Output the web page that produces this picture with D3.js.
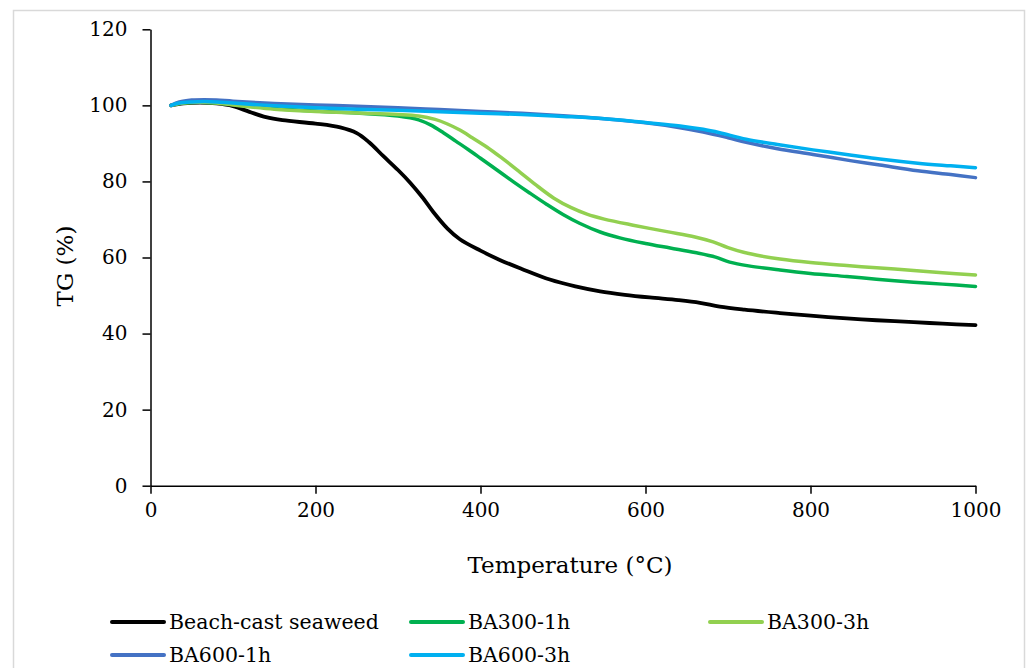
<!DOCTYPE html>
<html>
<head>
<meta charset="utf-8">
<script src="https://cdn.jsdelivr.net/npm/d3@7/dist/d3.min.js"></script>
<style>
  html, body { margin: 0; padding: 0; background: #fff; }
  svg { display: block; }
  text { font-family: "DejaVu Serif", "Liberation Serif", serif; fill: #000; }
</style>
</head>
<body>
<svg id="chart" width="1027" height="668"></svg>
<script>
// ---- data (temperature °C, TG %) ----
const seriesNames = ["Beach-cast seaweed", "BA300-1h", "BA300-3h", "BA600-1h", "BA600-3h"];
const seriesColors = ["#000000", "#00b050", "#92d050", "#4472c4", "#00b0f0"];

const beachCast = [[25,100],[40,100.5],[60,100.7],[80,100.5],[100,99.8],[120,98.3],[140,96.9],[160,96.1],[200,95.2],[230,94.2],[250,92.7],[265,90.3],[282,86.7],[300,83],[315,79.6],[330,75.7],[343,71.9],[360,67.6],[375,64.8],[400,61.8],[424,59.3],[450,57],[484,54.2],[515,52.4],[545,51.1],[575,50.2],[605,49.5],[640,48.8],[666,48.1],[690,47.1],[720,46.3],[763,45.4],[800,44.7],[844,44.0],[880,43.5],[925,43.0],[960,42.6],[1000,42.2]];
const ba300_1h = [[25,100],[40,100.6],[60,100.8],[80,100.6],[100,100.2],[150,99.2],[200,98.5],[250,98],[300,97.2],[325,96.2],[340,94.8],[355,92.8],[370,90.6],[385,88.4],[400,86.1],[420,83.0],[440,79.9],[460,76.9],[480,74.0],[500,71.3],[520,69.0],[545,66.7],[570,65.1],[600,63.7],[630,62.5],[660,61.3],[685,60.1],[702,58.8],[725,57.8],[763,56.7],[800,55.8],[844,55.0],[880,54.3],[925,53.5],[960,53],[1000,52.4]];
const ba300_3h = [[25,100],[40,100.6],[60,100.8],[80,100.6],[100,100.1],[150,99],[200,98.4],[250,98],[300,97.6],[325,97.2],[345,96.3],[360,95.1],[375,93.5],[390,91.5],[408,89.0],[425,86.3],[448,82.4],[470,78.6],[489,75.6],[510,73.1],[529,71.4],[550,70.1],[585,68.5],[626,66.8],[660,65.4],[682,64.1],[700,62.6],[720,61.3],[740,60.4],[763,59.6],[800,58.7],[844,57.9],[880,57.3],[925,56.6],[960,56],[1000,55.4]];
const ba600_1h = [[25,100],[35,100.9],[50,101.4],[65,101.5],[80,101.4],[100,101.1],[150,100.5],[200,100.1],[250,99.8],[300,99.4],[350,98.9],[400,98.4],[450,97.9],[500,97.3],[550,96.5],[600,95.4],[640,94.2],[670,93],[700,91.5],[722,90.3],[760,88.6],[803,87.1],[850,85.4],[884,84.3],[930,82.8],[970,81.8],[1000,81]];
const ba600_3h = [[25,100],[35,100.6],[50,100.9],[65,101],[80,100.9],[100,100.6],[150,99.9],[200,99.4],[250,99],[300,98.7],[350,98.3],[400,97.9],[450,97.6],[500,97.1],[550,96.5],[600,95.5],[642,94.6],[670,93.7],[690,92.8],[722,91.1],[760,89.7],[803,88.3],[850,86.9],[884,85.9],[930,84.8],[970,84.1],[1000,83.6]];
const seriesData = [beachCast, ba300_1h, ba300_3h, ba600_1h, ba600_3h];

const xTicks = [0, 200, 400, 600, 800, 1000];
const yTicks = [0, 20, 40, 60, 80, 100, 120];
const xTitle = "Temperature (°C)";
const yTitle = "TG (%)";

(function draw() {
  const svg = d3.select("#chart");
  const pL = 150.5, pR = 975.5, pT = 29.3, pB = 485.7;

  svg.append("rect")
    .attr("x", 13.5).attr("y", 10.5)
    .attr("width", 1011).attr("height", 700)
    .attr("fill", "#fff").attr("stroke", "#d9d9d9").attr("stroke-width", 1.5);

  const x = d3.scaleLinear().domain([0, 1000]).range([pL, pR]);
  const y = d3.scaleLinear().domain([0, 120]).range([pB, pT]);

  const xAxis = svg.append("g").attr("transform", `translate(0,${pB})`)
    .call(d3.axisBottom(x).tickValues(xTicks).tickFormat(d3.format("d"))
      .tickSize(8).tickPadding(9).tickSizeOuter(0));
  const yAxis = svg.append("g").attr("transform", `translate(${pL},0)`)
    .call(d3.axisLeft(y).tickValues(yTicks).tickFormat(d3.format("d"))
      .tickSize(8).tickPadding(15).tickSizeOuter(0));

  [xAxis, yAxis].forEach(g => {
    g.select(".domain").attr("stroke", "#000").attr("stroke-width", 1.5);
    g.selectAll(".tick line").attr("stroke", "#000").attr("stroke-width", 1.5);
    g.selectAll(".tick text")
      .style("font-family", '"DejaVu Serif", serif')
      .style("font-size", "20px").attr("fill", "#000");
  });

  svg.append("text")
    .attr("x", 570).attr("y", 573)
    .attr("text-anchor", "middle")
    .style("font-size", "23px")
    .text(xTitle);
  svg.append("text")
    .attr("transform", `translate(73,266) rotate(-90)`)
    .attr("text-anchor", "middle")
    .style("font-size", "23px")
    .text(yTitle);

  const line = d3.line()
    .x(d => x(d[0])).y(d => y(d[1]))
    .curve(d3.curveCatmullRom.alpha(0.5));

  seriesData.forEach((data, i) => {
    svg.append("path")
      .datum(data)
      .attr("fill", "none")
      .attr("stroke", seriesColors[i])
      .attr("stroke-width", i === 0 ? 3.8 : 3.5)
      .attr("stroke-linejoin", "round")
      .attr("stroke-linecap", "round")
      .attr("d", line);
  });

  const legendPos = [[112, 622], [411, 622], [710, 622], [112, 655], [411, 655]];
  seriesNames.forEach((name, i) => {
    const [lx, ly] = legendPos[i];
    svg.append("line")
      .attr("x1", lx).attr("x2", lx + 52)
      .attr("y1", ly).attr("y2", ly)
      .attr("stroke", seriesColors[i])
      .attr("stroke-width", 4)
      .attr("stroke-linecap", "round");
    svg.append("text")
      .attr("x", lx + 57).attr("y", ly + 7)
      .style("font-size", "20.5px")
      .text(name);
  });
})();
</script>
</body>
</html>
